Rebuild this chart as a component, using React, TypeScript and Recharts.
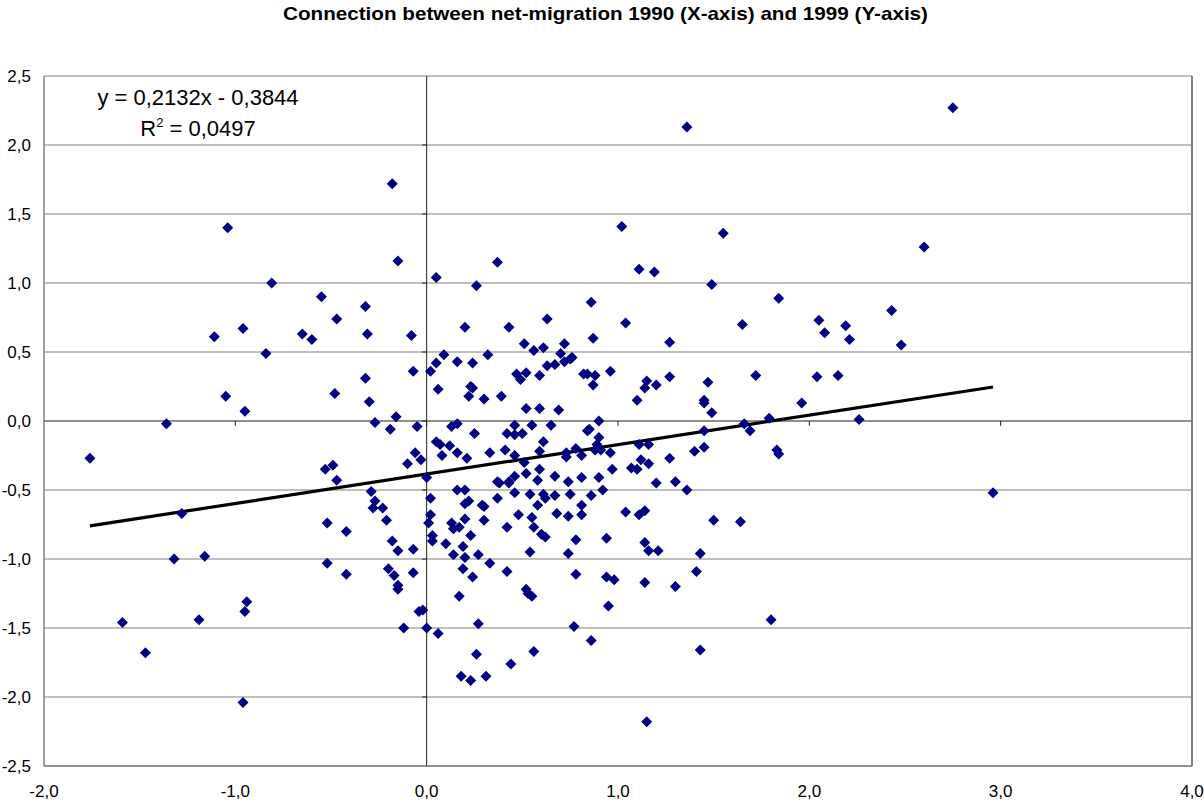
import React from 'react';
import { ScatterChart, Scatter, XAxis, YAxis, CartesianGrid, ReferenceLine } from 'recharts';

// [net-migration 1990, net-migration 1999]
const westPoints: number[][] = [
  [-1.04, 1.40], [-0.81, 1.00], [-0.55, 0.90], [-1.11, 0.61], [-0.96, 0.67], [-0.65, 0.63], [-0.60, 0.59], [-0.84, 0.49], [-1.05, 0.18], [-0.95, 0.07],
  [-1.36, -0.02], [-1.76, -0.27], [-1.28, -0.67], [-1.32, -1.00], [-1.16, -0.98], [-0.94, -1.31], [-0.95, -1.38], [-1.59, -1.46], [-1.19, -1.44], [-1.47, -1.68],
  [-0.96, -2.04], [-0.53, -0.35], [-0.52, -0.74], [-0.52, -1.03],
];

const upperPoints: number[][] = [
  [-0.18, 1.72], [-0.15, 1.16], [0.05, 1.04], [0.37, 1.15], [0.26, 0.98], [-0.32, 0.83],
  [1.36, 2.13], [1.02, 1.41], [1.55, 1.36], [1.11, 1.10], [1.19, 1.08], [1.49, 0.99], [0.86, 0.86],
];

const eastPoints: number[][] = [
  [2.75, 2.27], [2.60, 1.26], [1.84, 0.89], [1.65, 0.70], [2.05, 0.73], [2.08, 0.64], [2.19, 0.69], [2.21, 0.59], [2.43, 0.80], [2.48, 0.55],
  [1.72, 0.33], [2.04, 0.32], [2.15, 0.33], [1.96, 0.13], [1.79, 0.02], [2.26, 0.01], [1.66, -0.02], [1.69, -0.07], [1.83, -0.21], [1.84, -0.24],
  [2.96, -0.52], [1.64, -0.73], [1.80, -1.44],
];

const centerUpperPoints: number[][] = [
  [-0.47, 0.74], [-0.31, 0.63], [-0.08, 0.62], [0.20, 0.68], [0.43, 0.68], [0.51, 0.56], [0.56, 0.51], [0.09, 0.48], [0.05, 0.42], [0.02, 0.36],
  [0.16, 0.43], [0.24, 0.42], [0.32, 0.48], [-0.07, 0.36], [-0.32, 0.31], [-0.48, 0.20], [-0.30, 0.14], [0.06, 0.23], [0.23, 0.25], [0.24, 0.24],
  [0.22, 0.18], [0.30, 0.16], [0.39, 0.18], [0.47, 0.34], [0.49, 0.30], [0.52, 0.35], [0.52, 0.09], [-0.27, -0.01], [-0.16, 0.03], [-0.19, -0.06],
  [-0.05, -0.04], [0.13, -0.04], [0.16, -0.02], [0.25, -0.09], [0.42, -0.09], [0.46, -0.03], [0.46, -0.10], [0.50, -0.09], [0.55, -0.03], [0.05, -0.15],
  [0.07, -0.17], [0.12, -0.18], [0.16, -0.23], [0.08, -0.25], [0.21, -0.27], [0.33, -0.23], [0.41, -0.21], [0.46, -0.25], [0.51, -0.30], [0.52, -0.38],
  [0.46, -0.40], [-0.06, -0.23], [-0.03, -0.28], [-0.10, -0.31], [0.00, -0.41], [-0.49, -0.32], [-0.47, -0.43], [0.37, -0.44], [0.43, -0.44],
];

const centerLowerPoints: number[][] = [
  [-0.29, -0.51], [-0.27, -0.58], [-0.28, -0.63], [-0.23, -0.63], [-0.21, -0.72], [-0.42, -0.80], [-0.18, -0.87], [-0.15, -0.94], [-0.07, -0.93], [-0.42, -1.11],
  [-0.20, -1.07], [-0.17, -1.12], [-0.15, -1.19], [-0.15, -1.22], [-0.07, -1.10], [-0.04, -1.38], [-0.02, -1.37], [-0.12, -1.50], [0.00, -1.50], [0.06, -1.54],
  [0.02, -0.56], [0.02, -0.68], [0.01, -0.74], [0.03, -0.83], [0.03, -0.87], [0.10, -0.89], [0.16, -0.50], [0.20, -0.50], [0.20, -0.60], [0.22, -0.58],
  [0.29, -0.61], [0.30, -0.62], [0.37, -0.56], [0.38, -0.45], [0.43, -0.45], [0.46, -0.52], [0.54, -0.53], [0.48, -0.68], [0.55, -0.70], [0.56, -0.77],
  [0.20, -0.71], [0.13, -0.74], [0.14, -0.78], [0.17, -0.77], [0.30, -0.72], [0.42, -0.77], [0.23, -0.83], [0.19, -0.91], [0.14, -0.97], [0.20, -0.99],
  [0.27, -0.97], [0.33, -1.03], [0.19, -1.07], [0.24, -1.13], [0.42, -1.09], [0.54, -0.95], [0.52, -1.22], [0.53, -1.25], [0.55, -1.27], [0.17, -1.27],
  [0.27, -1.47], [0.26, -1.69], [0.44, -1.76], [0.18, -1.85], [0.23, -1.88], [0.31, -1.85], [0.56, -1.67],
];

const rightUpperPoints: number[][] = [
  [0.63, 0.74], [1.04, 0.71], [0.87, 0.60], [1.27, 0.57], [0.61, 0.53], [0.72, 0.56], [0.70, 0.49], [0.76, 0.46], [0.75, 0.45], [0.72, 0.43],
  [0.67, 0.41], [0.63, 0.40], [0.59, 0.33], [0.82, 0.34], [0.84, 0.34], [0.88, 0.33], [0.87, 0.26], [0.96, 0.36], [1.15, 0.29], [1.14, 0.24],
  [1.20, 0.26], [1.27, 0.32], [1.10, 0.15], [1.47, 0.28], [1.45, 0.15], [1.45, 0.13], [1.49, 0.06], [0.59, 0.09], [0.69, 0.08], [0.65, -0.03],
  [0.90, 0.00], [0.84, -0.07], [0.85, -0.06], [0.90, -0.12], [0.89, -0.17], [0.91, -0.21], [0.88, -0.21], [0.96, -0.23], [0.78, -0.20], [0.81, -0.25],
  [0.73, -0.23], [0.73, -0.26], [0.61, -0.15], [0.59, -0.22], [1.11, -0.17], [1.16, -0.17], [1.45, -0.07], [1.45, -0.19], [1.40, -0.22], [1.27, -0.27],
  [1.12, -0.28], [1.16, -0.31], [1.07, -0.34], [1.10, -0.35], [0.97, -0.35], [0.59, -0.35], [0.67, -0.40], [0.58, -0.43], [0.74, -0.44], [0.81, -0.41],
  [0.90, -0.41], [1.20, -0.45], [1.30, -0.44],
];

const rightLowerPoints: number[][] = [
  [1.36, -0.50], [0.61, -0.53], [0.62, -0.56], [0.67, -0.54], [0.75, -0.53], [0.86, -0.54], [0.92, -0.50], [0.58, -0.61], [0.81, -0.61], [0.68, -0.67],
  [0.74, -0.69], [0.81, -0.68], [0.60, -0.82], [0.62, -0.84], [0.78, -0.86], [0.94, -0.85], [1.04, -0.66], [1.11, -0.68], [1.14, -0.65], [1.50, -0.72],
  [1.14, -0.88], [1.16, -0.94], [1.21, -0.94], [1.43, -0.96], [0.74, -0.96], [0.78, -1.11], [0.94, -1.13], [0.98, -1.15], [1.14, -1.17], [1.30, -1.20],
  [1.41, -1.09], [0.95, -1.34], [0.77, -1.49], [0.86, -1.59], [1.43, -1.66], [1.15, -2.18],
];

const xTicks = [-2, -1, 0, 1, 2, 3, 4];
const yTicks = [-2.5, -2, -1.5, -1, -0.5, 0, 0.5, 1, 1.5, 2, 2.5];
const slope = 0.2132;
const intercept = -0.3844;
const rSquaredLabel = '0,0497';
const equationLabel = 'y = 0,2132x - 0,3844';
const title = 'Connection between net-migration 1990 (X-axis) and 1999 (Y-axis)';

const allPoints = [
  ...westPoints, ...upperPoints, ...eastPoints, ...centerUpperPoints,
  ...centerLowerPoints, ...rightUpperPoints, ...rightLowerPoints,
].map(([x, y]) => ({ x, y }));

const xs = allPoints.map((p) => p.x);
const xMin = Math.min(...xs);
const xMax = Math.max(...xs);

const fmt = (v: number) => (Math.abs(v) < 1e-9 ? 0 : v).toFixed(1).replace('.', ',');

const FONT = '"Liberation Sans", Arial, Helvetica, sans-serif';

const Diamond = (props: any) => {
  const { cx, cy } = props;
  if (cx == null || cy == null) return null;
  const r = 5.5;
  return <path d={`M${cx},${cy - r}L${cx + r},${cy}L${cx},${cy + r}L${cx - r},${cy}Z`} fill="#000080" />;
};

export default function App() {
  const tickFont = { fontSize: 17, fill: '#000', fontFamily: FONT };
  return (
    <div style={{ position: 'absolute', left: 0, top: 0, width: 1204, height: 803, background: '#fff' }}>
      <ScatterChart width={1204} height={803} margin={{ top: 76, right: 12, left: 0, bottom: 0 }}>
        <CartesianGrid horizontal vertical={false} stroke="#808080" strokeWidth={1.2} />
        <XAxis
          type="number"
          dataKey="x"
          domain={[-2, 4]}
          ticks={xTicks}
          tickFormatter={fmt}
          allowDataOverflow
          height={37}
          tickLine={false}
          tickSize={0}
          tickMargin={19}
          axisLine={{ stroke: '#808080', strokeWidth: 1.5 }}
          tick={tickFont}
          interval={0}
        />
        <YAxis
          type="number"
          dataKey="y"
          domain={[-2.5, 2.5]}
          ticks={yTicks}
          tickFormatter={fmt}
          allowDataOverflow
          width={44}
          tickLine={false}
          tickSize={0}
          tickMargin={13}
          axisLine={{ stroke: '#808080', strokeWidth: 1.5 }}
          tick={tickFont}
          interval={0}
        />
        <ReferenceLine x={4} stroke="#808080" strokeWidth={2} />
        <ReferenceLine y={0} stroke="#606060" strokeWidth={1.2} />
        <ReferenceLine x={0} stroke="#202020" strokeWidth={1} />
        {xTicks.filter((v) => v > -2 && v < 4).map((v) => (
          <ReferenceLine key={`xt${v}`} segment={[{ x: v, y: 0 }, { x: v, y: -0.035 }]} stroke="#202020" strokeWidth={1} />
        ))}
        {yTicks.filter((v) => v > -2.5 && v < 2.5).map((v) => (
          <ReferenceLine key={`yt${v}`} segment={[{ x: 0, y: v }, { x: -0.025, y: v }]} stroke="#202020" strokeWidth={1} />
        ))}
        <Scatter data={allPoints} shape={<Diamond />} isAnimationActive={false} />
        <ReferenceLine
          segment={[{ x: xMin, y: slope * xMin + intercept }, { x: xMax, y: slope * xMax + intercept }]}
          stroke="#000"
          strokeWidth={3.2}
        />
      </ScatterChart>
      <svg width={1204} height={803} style={{ position: 'absolute', left: 0, top: 0, pointerEvents: 'none' }}>
        <text x={605.5} y={20} textAnchor="middle" fontFamily={FONT} fontWeight="bold" fontSize={19} textLength={645} lengthAdjust="spacingAndGlyphs" fill="#000">
          {title}
        </text>
        <text x={198} y={105} textAnchor="middle" fontFamily={FONT} fontSize={22} fill="#000">
          {equationLabel}
        </text>
        <text x={198} y={136} textAnchor="middle" fontFamily={FONT} fontSize={22} fill="#000">
          R<tspan fontSize={13} dy={-9}>2</tspan><tspan dy={9}>{` = ${rSquaredLabel}`}</tspan>
        </text>
      </svg>
    </div>
  );
}
